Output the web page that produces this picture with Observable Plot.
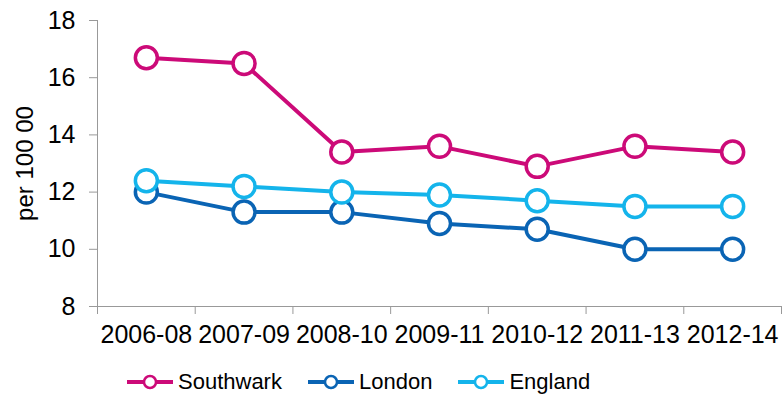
<!DOCTYPE html>
<html>
<head>
<meta charset="utf-8">
<script src="https://cdn.jsdelivr.net/npm/d3@7"></script>
<script src="https://cdn.jsdelivr.net/npm/@observablehq/plot@0.6"></script>
<style>
  body { margin: 0; background: #fff; font-family: "Liberation Sans", Arial, sans-serif; }
  #legend { display: flex; align-items: center; margin-left: 127px; height: 52px; padding-top: 4px; font-size: 22px; color: #000; }
  .item { display: flex; align-items: center; margin-right: 26px; }
  .item svg { margin-right: 5px; }
</style>
</head>
<body>
<div id="chart"></div>
<div id="legend"></div>
<script>
const periods = ["2006-08", "2007-09", "2008-10", "2009-11", "2010-12", "2011-13", "2012-14"];
const southwark = [16.7, 16.5, 13.4, 13.6, 12.9, 13.6, 13.4];
const london = [12.0, 11.3, 11.3, 10.9, 10.7, 10.0, 10.0];
const england = [12.4, 12.2, 12.0, 11.9, 11.7, 11.5, 11.5];
const yTicks = [8, 10, 12, 14, 16, 18];
const yLabel = "per 100 00";

const series = [
  {name: "Southwark", values: southwark, color: "#cc0a78"},
  {name: "London", values: london, color: "#0a64b4"},
  {name: "England", values: england, color: "#14b4eb"}
];

// x is a position index: category i sits at i + 0.5, boundaries at integers
const rows = s => s.values.map((v, i) => ({period: periods[i], pos: i + 0.5, value: v}));

const axisColor = "#999";
const font = "Liberation Sans, Arial, sans-serif";

let marks = [
  Plot.axisY({ticks: yTicks, tickSize: 8, tickPadding: 14, fontSize: 25, stroke: axisColor, fill: "#000", label: null}),
  Plot.text([yLabel], {frameAnchor: "left", textAnchor: "middle", rotate: -90, dx: -72, fontSize: 24, fill: "#000"}),
  Plot.axisX({ticks: d3.range(0, periods.length + 1), tickSize: 8, tickFormat: () => "", stroke: axisColor, label: null}),
  Plot.axisX({ticks: periods.map((p, i) => i + 0.5), tickFormat: d => periods[Math.floor(d)], tickSize: 0,
    tickPadding: 19, fontSize: 25, fill: "#000", label: null}),
  Plot.ruleX([0], {stroke: axisColor}),
  Plot.ruleY([8], {stroke: axisColor})
];

series.forEach(s => {
  marks.push(Plot.line(rows(s), {x: "pos", y: "value", stroke: s.color, strokeWidth: 4}));
  marks.push(Plot.dot(rows(s), {x: "pos", y: "value", r: 11, fill: "white", stroke: s.color, strokeWidth: 3.5}));
});

const chart = Plot.plot({
  width: 783,
  height: 352,
  marginLeft: 97,
  marginRight: 2,
  marginTop: 20,
  marginBottom: 46,
  style: {fontFamily: font, color: "#000", background: "white", overflow: "visible"},
  x: {domain: [0, periods.length]},
  y: {domain: [8, 18]},
  marks
});
d3.select("#chart").append(() => chart);

// legend below the svg
const legend = d3.select("#legend");
series.forEach(s => {
  const item = legend.append("div").attr("class", "item");
  const sw = item.append("svg").attr("width", 46).attr("height", 20);
  sw.append("line").attr("x1", 0).attr("x2", 46).attr("y1", 10).attr("y2", 10)
    .attr("stroke", s.color).attr("stroke-width", 4);
  sw.append("circle").attr("cx", 23).attr("cy", 10).attr("r", 6)
    .attr("fill", "white").attr("stroke", s.color).attr("stroke-width", 2.5);
  item.append("span").text(s.name);
});
</script>
</body>
</html>
